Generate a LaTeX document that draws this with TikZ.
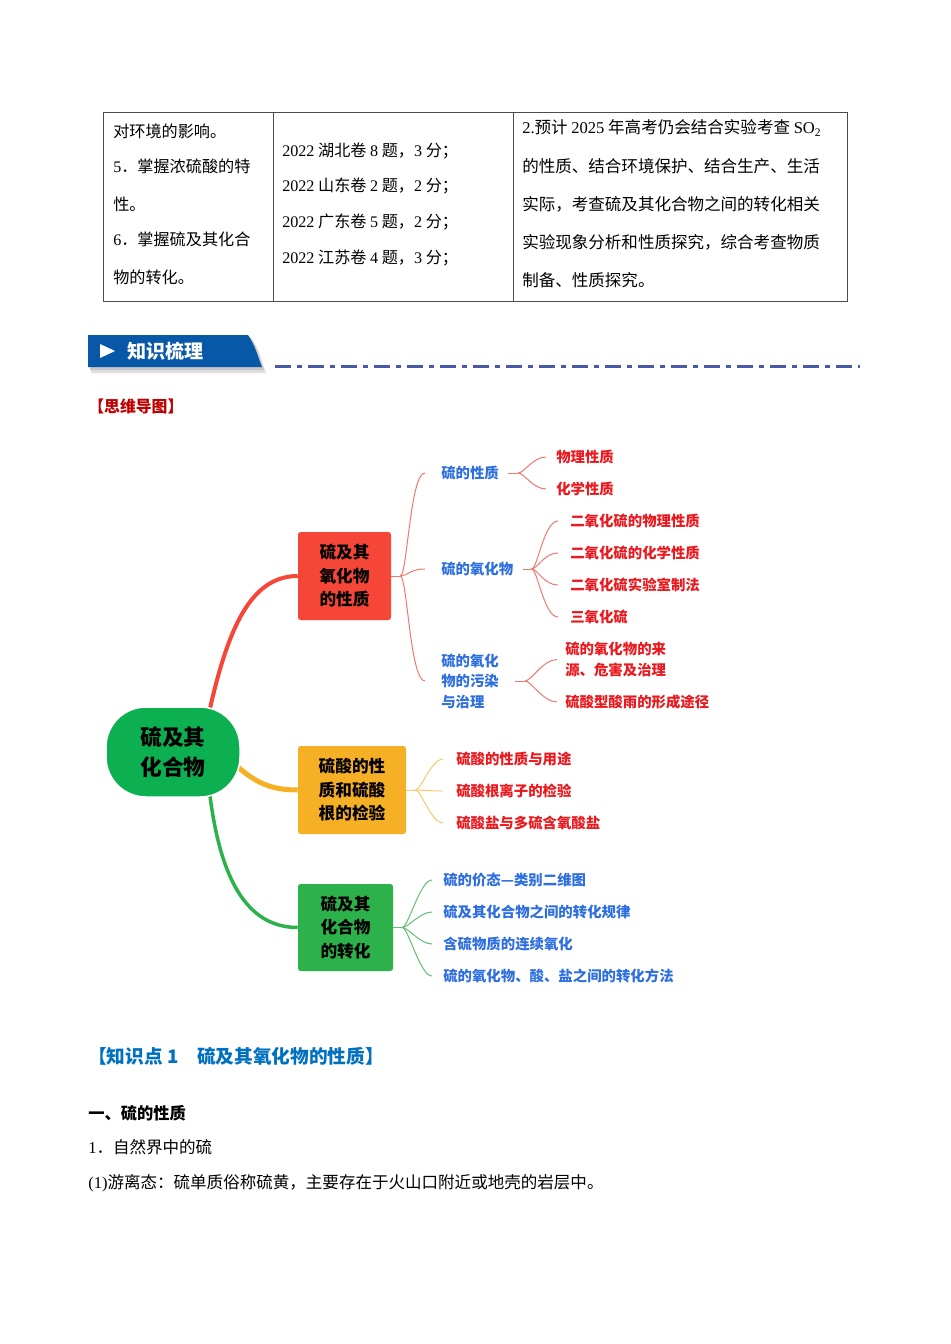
\documentclass[tikz,border=0pt]{standalone}
\usepackage{fontspec}
\setmainfont{Liberation Serif}
\newfontfamily\cjk{Noto Sans CJK SC}
\usetikzlibrary{calc,backgrounds}
\XeTeXlinebreaklocale "zh"
\newdimen\pxu \pxu=0.75pt
\newcommand\lat[1]{{\rmfamily #1}}
\definecolor{bannerblue}{RGB}{8,88,168}
\definecolor{dashblue}{RGB}{72,90,165}
\definecolor{headred}{RGB}{192,0,0}
\definecolor{headblue}{RGB}{0,112,192}
\definecolor{subblue}{RGB}{45,110,225}
\definecolor{leafred}{RGB}{235,25,30}
\definecolor{rootgreen}{RGB}{12,176,80}
\definecolor{boxred}{RGB}{245,70,55}
\definecolor{boxorange}{RGB}{246,176,38}
\definecolor{boxgreen}{RGB}{45,178,75}
\definecolor{thinred}{RGB}{240,120,115}
\definecolor{thinorange}{RGB}{248,200,110}
\definecolor{thingreen}{RGB}{100,190,115}

\begin{document}
\begin{tikzpicture}[x=0.75pt,y=-0.75pt,
  tbltxt/.style={anchor=west,inner sep=0pt,font=\cjk\fontsize{12.1}{14}\selectfont},
  rtxt/.style={tbltxt,font=\cjk\fontsize{12.4}{14}\selectfont},
  bodytxt/.style={anchor=west,inner sep=0pt,font=\cjk\fontsize{12.4}{14}\selectfont},
  box/.style={rounded corners=2pt,inner sep=0pt,align=center,text=black,
    font=\cjk\bfseries\fontsize{12.5}{17.6}\selectfont},
  sub/.style={anchor=west,inner sep=0pt,align=left,text=subblue,
    font=\cjk\bfseries\fontsize{10.8}{15.4}\selectfont},
  leaf/.style={sub,text=leafred},
  rl/.style={draw=thinred,line width=1\pxu},
  ol/.style={draw=thinorange,line width=1\pxu},
  gl/.style={draw=thingreen,line width=1\pxu}]
\useasboundingbox (0,0) rectangle (950,1344);
\begin{scope}[on background layer]
\fill[white] (0,0) rectangle (950,1344);
\end{scope}

% table
\draw[black!70,line width=1\pxu] (103,113) rectangle (847,302);
\draw[black!70,line width=1\pxu] (273,113) -- (273,302) (513,113) -- (513,302);
\node[tbltxt] (t1) at (113,131) {对环境的影响。};
\node[tbltxt] (t2) at (113,166) {\lat{5}．掌握浓硫酸的特};
\node[tbltxt] (t3) at (113,204) {性。};
\node[tbltxt] (t4) at (113,239) {\lat{6}．掌握硫及其化合};
\node[tbltxt] (t5) at (113,277) {物的转化。};
\node[tbltxt] (m1) at (282,151) {\lat{2022} 湖北卷 \lat{8} 题，\lat{3} 分；};
\node[tbltxt] (m2) at (282,186) {\lat{2022} 山东卷 \lat{2} 题，\lat{2} 分；};
\node[tbltxt] (m3) at (282,222) {\lat{2022} 广东卷 \lat{5} 题，\lat{2} 分；};
\node[tbltxt] (m4) at (282,258) {\lat{2022} 江苏卷 \lat{4} 题，\lat{3} 分；};
\node[rtxt] (r1) at (522,128) {\lat{2.}预计 \lat{2025} 年高考仍会结合实验考查 \lat{SO\textsubscript{2}}};
\node[rtxt] (r2) at (522,166) {的性质、结合环境保护、结合生产、生活};
\node[rtxt] (r3) at (522,204) {实际，考查硫及其化合物之间的转化相关};
\node[rtxt] (r4) at (522,242) {实验现象分析和性质探究，综合考查物质};
\node[rtxt] (r5) at (522,280) {制备、性质探究。};

% banner
\fill[black!12] (91,339) -- (252,339) .. controls (259,349) and (262,361) .. (266,373) -- (91,373) -- cycle;
\fill[black!22] (90,337) -- (250,337) .. controls (257,347) and (260,359) .. (264,370) -- (90,370) -- cycle;
\fill[bannerblue] (88,335) -- (248,335) .. controls (255,345) and (258,357) .. (262,367) -- (88,367) -- cycle;
\fill[white] (100,344) -- (115,351) -- (100,358) -- cycle;
\node[anchor=west,inner sep=0pt,text=white,font=\cjk\bfseries\fontsize{14.3}{16}\selectfont] (ban) at (127,351) {知识梳理};
\draw[dashblue,line width=3\pxu,dash pattern=on 16\pxu off 6\pxu on 5\pxu off 6\pxu] (275,366) -- (860,366);
\node[anchor=west,inner sep=0pt,text=headred,font=\cjk\bfseries\fontsize{11.9}{14}\selectfont] (mm) at (88,406) {【思维导图】};

% mind map
\node[fill=rootgreen,draw=white,line width=1.5\pxu,rounded corners=30pt,minimum width=134\pxu,minimum height=90\pxu,
  align=center,font=\cjk\bfseries\fontsize{16.3}{22.5}\selectfont] (root) at (173,752) {硫及其\\化合物};
\node[box,fill=boxred,minimum width=93\pxu,minimum height=88\pxu] (b1) at (344.5,576) {硫及其\\氧化物\\的性质};
\node[box,fill=boxorange,minimum width=108\pxu,minimum height=88\pxu] (b2) at (352,790) {硫酸的性\\质和硫酸\\根的检验};
\node[box,fill=boxgreen,minimum width=95\pxu,minimum height=87\pxu] (b3) at (345.5,927.5) {硫及其\\化合物\\的转化};

\begin{scope}[on background layer]
\draw[boxred,line width=4\pxu] ($(root.north)+(37,2)$) .. controls (228,630) and (250,576) .. (b1.west);
\draw[boxorange,line width=5\pxu] ($(root.east)+(-4,14)$) .. controls (255,782) and (270,790) .. (b2.west);
\draw[boxgreen,line width=3.5\pxu] ($(root.south)+(37,-2)$) .. controls (220,875) and (245,927.5) .. (b3.west);
\end{scope}

\node[sub] (c11) at (441,473) {硫的性质};
\node[sub] (c12) at (441,569) {硫的氧化物};
\node[sub] (c13) at (441,681) {硫的氧化\\物的污染\\与治理};
\node[leaf] (d111) at (556,457) {物理性质};
\node[leaf] (d112) at (556,489) {化学性质};
\node[leaf] (d121) at (570,521) {二氧化硫的物理性质};
\node[leaf] (d122) at (570,553) {二氧化硫的化学性质};
\node[leaf] (d123) at (570,585) {二氧化硫实验室制法};
\node[leaf] (d124) at (570,617) {三氧化硫};
\node[leaf] (d131) at (565,659.5) {硫的氧化物的来\\源、危害及治理};
\node[leaf] (d132) at (565,702) {硫酸型酸雨的形成途径};

\node[leaf] (e1) at (456,759) {硫酸的性质与用途};
\node[leaf] (e2) at (456,791) {硫酸根离子的检验};
\node[leaf] (e3) at (456,823) {硫酸盐与多硫含氧酸盐};

\node[sub] (g1) at (443,880) {硫的价态—类别二维图};
\node[sub] (g2) at (443,912) {硫及其化合物之间的转化规律};
\node[sub] (g3) at (443,944) {含硫物质的连续氧化};
\node[sub] (g4) at (443,976) {硫的氧化物、酸、盐之间的转化方法};

\coordinate (j1) at ($(b1.east)+(9,0)$);
\draw[rl] (b1.east) -- (j1);
\foreach \c in {c11,c12,c13}
  \draw[rl] (j1) .. controls +(7,0) and +(-15,0) .. ($(\c.west)+(-16,0)$);
\coordinate (j11) at ($(c11.east)+(19,0)$);
\draw[rl] ($(c11.east)+(9,0)$) -- (j11);
\foreach \c in {d111,d112}
  \draw[rl] (j11) .. controls +(6,0) and +(-13,0) .. ($(\c.west)+(-10,0)$);
\coordinate (j12) at ($(c12.east)+(18,0)$);
\draw[rl] ($(c12.east)+(9,0)$) -- (j12);
\foreach \c in {d121,d122,d123,d124}
  \draw[rl] (j12) .. controls +(6,0) and +(-14,0) .. ($(\c.west)+(-12,0)$);
\coordinate (j13) at ($(c13.east)+(26,0)$);
\draw[rl] ($(c13.east)+(16,0)$) -- (j13);
\foreach \c in {d131,d132}
  \draw[rl] (j13) .. controls +(6,0) and +(-14,0) .. ($(\c.west)+(-8,0)$);

\coordinate (j2) at ($(b2.east)+(9,0)$);
\draw[ol] (b2.east) -- (j2);
\foreach \c in {e1,e2,e3}
  \draw[ol] (j2) .. controls +(6,0) and +(-12,0) .. ($(\c.west)+(-13,0)$);

\coordinate (j3) at ($(b3.east)+(9,0)$);
\draw[gl] (b3.east) -- (j3);
\foreach \c in {g1,g2,g3,g4}
  \draw[gl] (j3) .. controls +(6,0) and +(-12,0) .. ($(\c.west)+(-11,0)$);

% text below
\node[anchor=west,inner sep=0pt,text=headblue,font=\cjk\bfseries\fontsize{14}{16}\selectfont] (kp) at (88,1056) {【知识点 1\quad 硫及其氧化物的性质】};
\node[bodytxt,font=\cjk\bfseries\fontsize{12.2}{14}\selectfont] (h1) at (88,1113) {一、硫的性质};
\node[bodytxt] (p1) at (88,1147) {\lat{1}．自然界中的硫};
\node[bodytxt] (p2) at (88,1183) {\lat{(1)}游离态：硫单质俗称硫黄，主要存在于火山口附近或地壳的岩层中。};
\end{tikzpicture}
\end{document}
